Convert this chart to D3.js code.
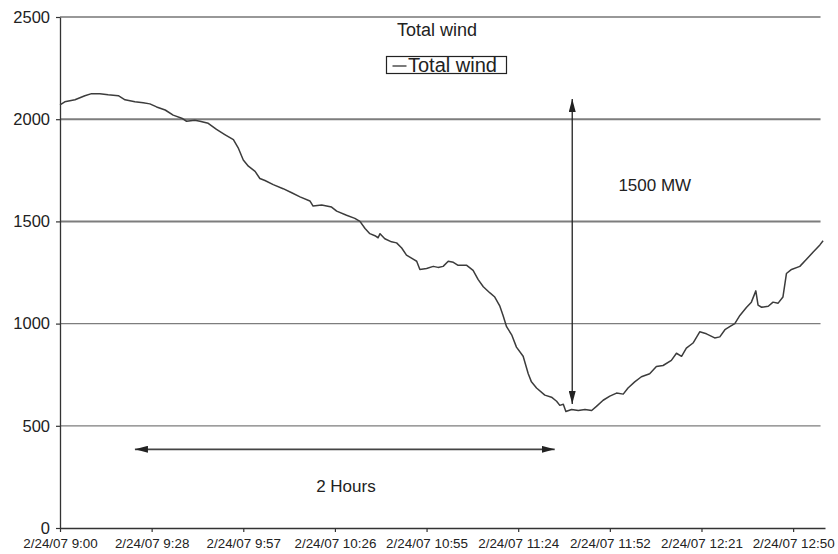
<!DOCTYPE html>
<html>
<head>
<meta charset="utf-8">
<script src="https://cdn.jsdelivr.net/npm/d3@7"></script>
<style>
  body { margin: 0; background: #fff; }
  svg { display: block; font-family: "Liberation Sans", Arial, Helvetica, sans-serif; }
</style>
</head>
<body>
<script>
// minutes after 2/24/07 9:00, and total wind output (MW)
const minutes = [0, 1.5, 4.7, 7.8, 9.9, 12.5, 15.1, 18.3, 20.4, 23.5, 26.1, 28.2, 30.3, 33.0, 35.5, 38.2, 39.7, 42.3, 43.9, 46.5,
  49.1, 51.7, 54.4, 55.9, 57.5, 59.1, 61.2, 62.7, 64.3, 66.9, 70.0, 72.7, 75.3, 78.4, 79.4, 82.1, 85.2, 86.8, 89.9, 92.5,
  94.1, 95.7, 97.2, 98.8, 99.8, 100.4, 101.9, 104.0, 105.6, 107.2, 108.7, 110.8, 111.9, 112.9, 115.0, 117.1, 118.6, 120.2, 121.8, 123.4,
  124.9, 127.6, 129.6, 131.2, 132.8, 134.9, 136.4, 138.0, 139.0, 140.1, 141.7, 143.2, 145.3, 146.9, 147.9, 149.5, 152.1, 154.2, 155.8, 156.8,
  157.9, 158.7, 160.5, 162.6, 164.7, 166.8, 168.3, 170.4, 172.5, 174.6, 176.7, 178.2, 180.3, 182.4, 185.0, 187.1, 189.2, 191.8, 193.4, 195.0,
  196.5, 198.6, 200.7, 202.8, 205.4, 207.0, 208.6, 210.1, 211.7, 213.3, 215.4, 216.9, 218.3, 219.0, 220.1, 222.2, 223.7, 225.3, 226.8, 227.9,
  229.5, 232.1, 234.2, 236.3, 238.4, 239.4];
const totalWind = [2070, 2085, 2095, 2115, 2125, 2125, 2120, 2115, 2095, 2085, 2080, 2075, 2060, 2045, 2020, 2005, 1990, 1995, 1990, 1980,
  1950, 1925, 1900, 1860, 1800, 1770, 1745, 1710, 1700, 1680, 1660, 1640, 1620, 1600, 1575, 1580, 1570, 1550, 1530, 1515,
  1500, 1465, 1440, 1430, 1420, 1440, 1415, 1400, 1395, 1370, 1335, 1315, 1305, 1265, 1270, 1280, 1275, 1280, 1305, 1300,
  1285, 1285, 1260, 1215, 1180, 1150, 1130, 1085, 1040, 985, 945, 885, 840, 755, 715, 685, 650, 640, 620, 600,
  605, 570, 580, 575, 580, 575, 595, 625, 645, 660, 655, 685, 715, 740, 755, 790, 795, 820, 855, 840,
  880, 905, 960, 950, 930, 935, 970, 985, 1000, 1040, 1080, 1105, 1160, 1090, 1080, 1085, 1105, 1100, 1130, 1245,
  1265, 1280, 1315, 1350, 1385, 1405];

const yTicks = [0, 500, 1000, 1500, 2000, 2500];
const heavyGrid = [1500, 2000];
const xTickMinutes = [0, 28.75, 57.5, 86.25, 115, 143.75, 172.5, 201.25, 230];
const xTickLabels = ["2/24/07 9:00", "2/24/07 9:28", "2/24/07 9:57", "2/24/07 10:26", "2/24/07 10:55",
  "2/24/07 11:24", "2/24/07 11:52", "2/24/07 12:21", "2/24/07 12:50"];

// annotations, in chart units
const rampArrow = [160.7, 607, 2099];      // minute, from MW, to MW
const hoursArrow = [23.5, 155.2, 385];     // from minute, to minute, MW
const rampLabel = [186.6, 1650, "1500 MW"];
const hoursLabel = [89.7, 176, "2 Hours"];

const width = 838, height = 554;

let svg = d3.select("body")
            .append("svg")
            .attr("width", width)
            .attr("height", height);

let x = d3.scaleLinear().domain([0, 240]).range([60, 825]);
let y = d3.scaleLinear().domain([0, 2500]).range([528, 17]);

let defs = svg.append("defs");
defs.append("marker")
    .attr("id", "head")
    .attr("markerUnits", "userSpaceOnUse")
    .attr("viewBox", "0 0 13 7")
    .attr("refX", 13)
    .attr("refY", 3.5)
    .attr("markerWidth", 13)
    .attr("markerHeight", 7)
    .attr("orient", "auto-start-reverse")
    .append("path")
    .attr("d", "M0,0 L13,3.5 L0,7 Z")
    .attr("fill", "#222");

// gridlines
svg.append("g")
   .selectAll("line")
   .data(yTicks.filter(data => data > 0))
   .enter()
   .append("line")
   .attr("x1", x(0))
   .attr("x2", x(238.6))
   .attr("y1", data => y(data))
   .attr("y2", data => y(data))
   .attr("stroke", data => data === 2500 ? "#333" : "#7d7d7d")
   .attr("stroke-width", data => heavyGrid.includes(data) ? 2 : 1.2);

let yAxis = svg.append("g")
               .attr("transform", "translate(" + x(0) + ",0)")
               .call(d3.axisLeft(y)
                       .tickValues(yTicks)
                       .tickFormat(d3.format("d"))
                       .tickSize(4)
                       .tickSizeOuter(0)
                       .tickPadding(6));

let xAxis = svg.append("g")
               .attr("transform", "translate(0," + y(0) + ")")
               .call(d3.axisBottom(x)
                       .tickValues(xTickMinutes)
                       .tickFormat((data, index) => xTickLabels[index])
                       .tickSize(4)
                       .tickSizeOuter(0)
                       .tickPadding(6.5));

[yAxis, xAxis].forEach(axis => {
  axis.select(".domain").attr("stroke", "#333").attr("stroke-width", 1.3);
  axis.selectAll(".tick line").attr("stroke", "#333").attr("stroke-width", 1.2);
  axis.selectAll("text").attr("fill", "#222").attr("font-family", null);
});
yAxis.selectAll("text").attr("font-size", "16.5px");
xAxis.selectAll("text").attr("font-size", "13.4px");

// wind line
let line = d3.line()
             .x((data, index) => x(minutes[index]))
             .y(data => y(data));

svg.append("path")
   .datum(totalWind)
   .attr("d", line)
   .attr("fill", "none")
   .attr("stroke", "#3c3c3c")
   .attr("stroke-width", 1.5)
   .attr("stroke-linejoin", "round");

// title and legend
svg.append("text")
   .attr("x", 437)
   .attr("y", 36)
   .attr("text-anchor", "middle")
   .attr("font-size", "18px")
   .attr("fill", "#222")
   .text("Total wind");

let legend = svg.append("g");
legend.append("rect")
      .attr("x", 386.5)
      .attr("y", 56.5)
      .attr("width", 120)
      .attr("height", 17)
      .attr("fill", "#fff")
      .attr("stroke", "#222")
      .attr("stroke-width", 1.2);
legend.append("line")
      .attr("x1", 392.5)
      .attr("x2", 406.5)
      .attr("y1", 66)
      .attr("y2", 66)
      .attr("stroke", "#333")
      .attr("stroke-width", 1.3);
legend.append("text")
      .attr("x", 408)
      .attr("y", 71.5)
      .attr("font-size", "20px")
      .attr("fill", "#222")
      .text("Total wind");

// arrows
svg.append("line")
   .attr("x1", x(rampArrow[0]))
   .attr("x2", x(rampArrow[0]))
   .attr("y1", y(rampArrow[1]))
   .attr("y2", y(rampArrow[2]))
   .attr("stroke", "#222")
   .attr("stroke-width", 1.3)
   .attr("marker-start", "url(#head)")
   .attr("marker-end", "url(#head)");

svg.append("line")
   .attr("x1", x(hoursArrow[0]))
   .attr("x2", x(hoursArrow[1]))
   .attr("y1", y(hoursArrow[2]))
   .attr("y2", y(hoursArrow[2]))
   .attr("stroke", "#444")
   .attr("stroke-width", 1.8)
   .attr("marker-start", "url(#head)")
   .attr("marker-end", "url(#head)");

svg.selectAll(".note")
   .data([rampLabel, hoursLabel])
   .enter()
   .append("text")
   .attr("class", "note")
   .attr("x", data => x(data[0]))
   .attr("y", data => y(data[1]))
   .attr("text-anchor", "middle")
   .attr("font-size", "17px")
   .attr("fill", "#222")
   .text(data => data[2]);
</script>
</body>
</html>
